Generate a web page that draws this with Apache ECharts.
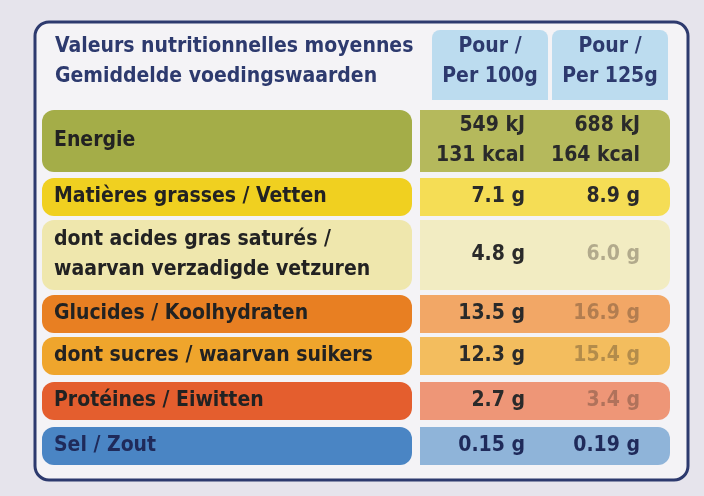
<!DOCTYPE html>
<html><head><meta charset="utf-8">
<script src="https://cdn.jsdelivr.net/npm/echarts@6/dist/echarts.min.js"></script>
<style>html,body{margin:0;padding:0;background:#e4e2ea}#c{width:704px;height:496px}</style>
</head><body><div id="c"></div>
<script>
const headerLeft = ["Valeurs nutritionnelles moyennes", "Gemiddelde voedingswaarden"];
const headerCols = [["Pour /", "Per 100g"], ["Pour /", "Per 125g"]];
const labels = [
  ["Energie"],
  ["Matières grasses / Vetten"],
  ["dont acides gras saturés /", "waarvan verzadigde vetzuren"],
  ["Glucides / Koolhydraten"],
  ["dont sucres / waarvan suikers"],
  ["Protéines / Eiwitten"],
  ["Sel / Zout"]
];
const per100 = [["549 kJ", "131 kcal"], ["7.1 g"], ["4.8 g"], ["13.5 g"], ["12.3 g"], ["2.7 g"], ["0.15 g"]];
const per125 = [["688 kJ", "164 kcal"], ["8.9 g"], ["6.0 g"], ["16.9 g"], ["15.4 g"], ["3.4 g"], ["0.19 g"]];

const rowTop = [110, 178, 220, 295, 337, 382, 427];
const rowH = [62, 38, 70, 38, 38, 38, 38];
const rowCol = ['#a4ad48', '#f0d020', '#efe7ad', '#e87f22', '#efa52c', '#e45e2e', '#4a85c4'];
const cellCol = ['#b5b95c', '#f5dd55', '#f2ecc2', '#f2a766', '#f3bd5e', '#ee9677', '#8fb4d9'];
const fontF = '"Liberation Sans Narrow","DejaVu Sans Condensed","Liberation Sans",sans-serif';
const g = [];
g.push({type:'rect',shape:{x:0,y:0,width:704,height:496},style:{fill:'#e6e4ec'}});
g.push({type:'rect',shape:{x:35,y:22,width:653,height:458,r:14},style:{fill:'#f4f3f6',stroke:'#2d3a6e',lineWidth:3}});
headerLeft.forEach((t,i)=>g.push({type:'text',x:55,y:36+i*30,style:{text:t,fill:'#2d3a6e',font:'bold 21px '+fontF}}));
headerCols.forEach((c,j)=>{
  const x=432+j*120;
  g.push({type:'rect',shape:{x:x,y:30,width:116,height:70,r:[8,8,0,0]},style:{fill:'#bcdcef'}});
  c.forEach((t,i)=>g.push({type:'text',x:x+58,y:36+i*30,style:{text:t,fill:'#2d3a6e',font:'bold 21px '+fontF,align:'center'}}));
});
labels.forEach((lab,k)=>{
  const y=rowTop[k],h=rowH[k];
  g.push({type:'rect',shape:{x:42,y:y,width:370,height:h,r:12},style:{fill:rowCol[k]}});
  g.push({type:'rect',shape:{x:420,y:y,width:250,height:h,r:[0,12,12,0]},style:{fill:cellCol[k]}});
  const dark = '#222';
  const tc = k===6?'#1f2a5a':dark;
  const lh=30, top=y+h/2-lab.length*lh/2+4;
  lab.forEach((t,i)=>g.push({type:'text',x:54,y:top+i*lh,style:{text:t,fill:tc,font:'bold 21px '+fontF}}));
  [per100[k],per125[k]].forEach((vals,j)=>{
    const vt=y+h/2-vals.length*lh/2+4;
    vals.forEach((t,i)=>g.push({type:'text',x:j?640:525,y:vt+i*lh,style:{text:t,fill:k===6?'#1f2a5a':(j&&k>1?'rgba(60,50,40,0.35)':'#2a2a2a'),font:'bold 21px '+fontF,align:'right'}}));
  });
});
const chart=echarts.init(document.getElementById('c'));
chart.setOption({animation:false,graphic:g});
</script></body></html>
